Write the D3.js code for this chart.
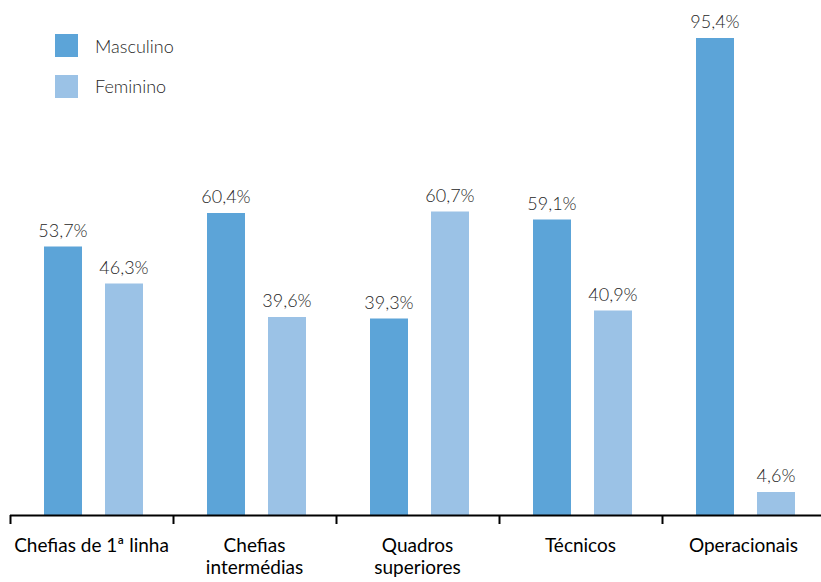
<!DOCTYPE html>
<html>
<head>
<meta charset="utf-8">
<script src="https://cdn.jsdelivr.net/npm/d3@7"></script>
<style>
  body { margin: 0; background: #fff; }
  svg { font-family: Lato, "Open Sans", sans-serif; }
</style>
</head>
<body>
<div id="chart"></div>
<script>
const categories = [
    ["Chefias de 1ª linha"],
    ["Chefias", "intermédias"],
    ["Quadros", "superiores"],
    ["Técnicos"],
    ["Operacionais"],
];
const series = ["Masculino", "Feminino"];
const masculino = [53.7, 60.4, 39.3, 59.1, 95.4];
const feminino = [46.3, 39.6, 60.7, 40.9, 4.6];
const colours = ["#5ca4d8", "#9bc2e6"];

const width = 821;
const height = 582;
const baseY = 515;

const svg = d3.select('#chart').append('svg')
    .attr('width', width)
    .attr('height', height);

const catKeys = categories.map(c => c.join(' '));

// outer scale: one band per category, ticks sit on band edges
const x0 = d3.scaleBand()
    .domain(catKeys)
    .range([10, 825])
    .padding(0);

// inner scale: two bars inside each band
const x1 = d3.scaleBand()
    .domain(series)
    .range([34, 133])
    .paddingInner(0.377)
    .paddingOuter(0);

const y = d3.scaleLinear()
    .domain([0, 100])
    .range([baseY, 15]);

const rows = catKeys.map((k, i) => ({ key: k, values: [masculino[i], feminino[i]] }));

const groups = svg.selectAll('g.cat')
    .data(rows)
    .join('g')
    .attr('class', 'cat')
    .attr('transform', d => `translate(${x0(d.key)},0)`);

groups.selectAll('rect')
    .data(d => d.values.map((v, j) => ({ s: series[j], v: v, j: j })))
    .join('rect')
    .attr('x', d => x1(d.s))
    .attr('y', d => y(d.v))
    .attr('width', x1.bandwidth())
    .attr('height', d => baseY - y(d.v))
    .attr('fill', d => colours[d.j]);

groups.selectAll('text.val')
    .data(d => d.values.map((v, j) => ({ s: series[j], v: v })))
    .join('text')
    .attr('class', 'val')
    .attr('x', d => x1(d.s) + x1.bandwidth() / 2)
    .attr('y', d => y(d.v) - 10)
    .attr('text-anchor', 'middle')
    .attr('fill', '#262626')
    .style('font-size', '18px')
    .style('font-weight', 300)
    .text(d => d3.format('.1f')(d.v).replace('.', ',') + '%');

// axis with ticks at band boundaries
const axisG = svg.append('g');
axisG.append('line')
    .attr('x1', x0.range()[0])
    .attr('x2', x0.range()[1])
    .attr('y1', baseY + 0.5)
    .attr('y2', baseY + 0.5)
    .attr('stroke', '#000')
    .attr('stroke-width', 2);

const edges = catKeys.map(k => x0(k)).concat([x0.range()[1] - 2]);
axisG.selectAll('line.tick')
    .data(edges)
    .join('line')
    .attr('class', 'tick')
    .attr('x1', d => d + 0.5)
    .attr('x2', d => d + 0.5)
    .attr('y1', baseY)
    .attr('y2', baseY + 9)
    .attr('stroke', '#000')
    .attr('stroke-width', 2);

// category labels, one or two lines
const labels = svg.selectAll('text.cat')
    .data(categories)
    .join('text')
    .attr('class', 'cat')
    .attr('x', (d, i) => x0(catKeys[i]) + x0.bandwidth() / 2)
    .attr('y', 552)
    .attr('text-anchor', 'middle')
    .attr('fill', '#000')
    .style('font-size', '19px');

labels.selectAll('tspan')
    .data(d => d)
    .join('tspan')
    .attr('x', function () { return d3.select(this.parentNode).attr('x'); })
    .attr('dy', (d, i) => i === 0 ? 0 : 22)
    .text(d => d);

// legend
const legend = svg.append('g');
series.forEach((s, i) => {
    legend.append('rect')
        .attr('x', 55)
        .attr('y', 34 + i * 41)
        .attr('width', 23)
        .attr('height', 23)
        .attr('fill', colours[i]);
    legend.append('text')
        .attr('x', 95)
        .attr('y', 53 + i * 40)
        .attr('fill', '#262626')
        .style('font-size', '18px')
        .style('font-weight', 300)
        .text(s);
});
</script>
</body>
</html>
